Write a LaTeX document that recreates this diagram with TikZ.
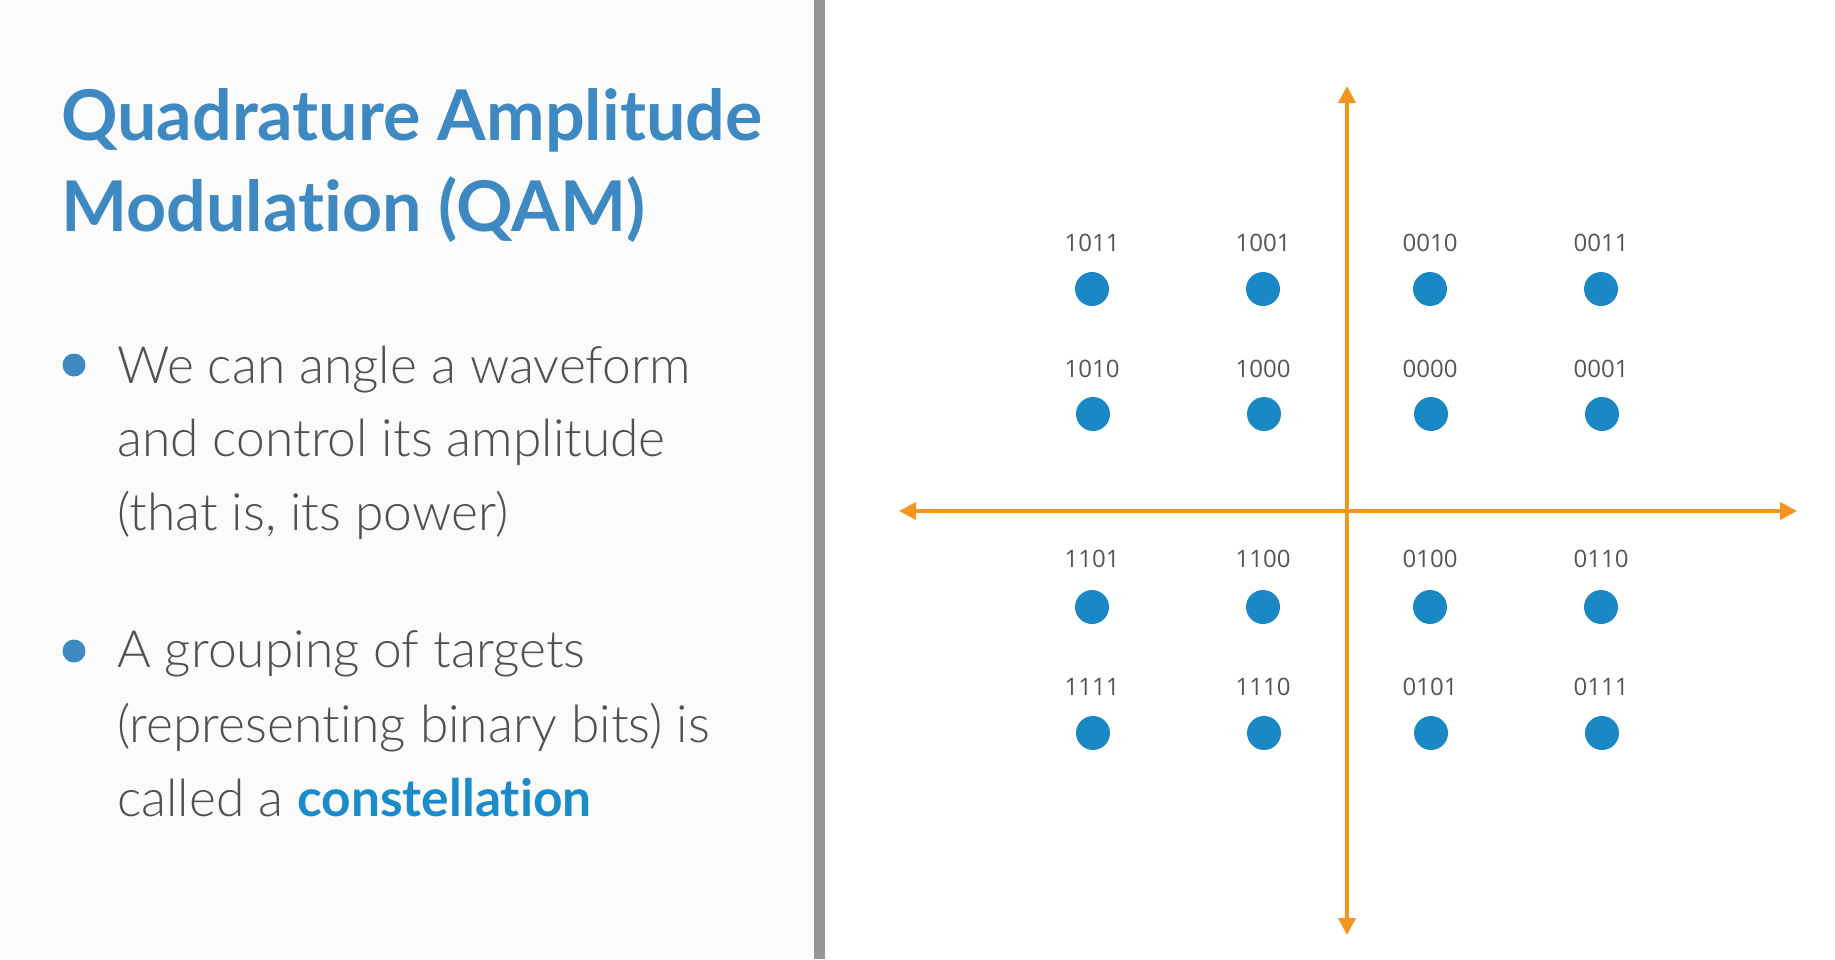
\documentclass[tikz,border=0pt]{standalone}
\usepackage{fontspec}
\setmainfont{Lato}[Ligatures=CommonOff]
\newfontfamily\lightfont{Lato Light}[Ligatures=CommonOff]
\newfontfamily\bitfont{Open Sans}
\usetikzlibrary{arrows.meta}
\definecolor{qamblue}{RGB}{62,137,193}
\definecolor{keyblue}{RGB}{27,139,201}
\definecolor{dotblue}{RGB}{27,136,198}
\definecolor{axisorange}{RGB}{246,148,32}
\definecolor{bodygray}{RGB}{80,80,80}
\definecolor{bitgray}{RGB}{85,85,85}
\definecolor{panelgray}{RGB}{251,251,251}
\definecolor{bargray}{RGB}{150,150,150}

\begin{document}
\begin{tikzpicture}[x=1pt, y=-1pt,
        title/.style={
            anchor=base west,
            inner sep=0pt,
            text=qamblue,
            font=\fontsize{70}{82}\selectfont\bfseries
          },
        body/.style={
            anchor=base west,
            inner sep=0pt,
            text=bodygray,
            font=\fontsize{51.5}{60}\selectfont\lightfont
          },
        bullet/.style={circle, fill=qamblue, minimum size=23pt, inner sep=0pt},
        dot/.style={circle, fill=dotblue, minimum size=34pt, inner sep=0pt},
        bits/.style={text=bitgray, inner sep=0pt, font=\fontsize{24}{28}\selectfont\bitfont},
        axis/.style={{Triangle[length=17pt,width=17pt]}-{Triangle[length=17pt,width=17pt]}, axisorange, line width=4pt}
      ]
      \useasboundingbox (0,0) rectangle (1835,959);
      \fill[panelgray] (0,0) rectangle (814,959);
      \fill[white] (825,0) rectangle (1835,959);
      \fill[bargray] (814,0) rectangle (825,959);

      % left panel
      \node[title] (title1) at (61,140) {Quadrature Amplitude};
      \node[title] (title2) at (61,231) {Modulation (QAM)};

      \node[bullet] (b1) at (74,365) {};
      \node[body] (l1) at (117,383) {We can angle a waveform};
      \node[body] (l2) at (117,456) {and control its amplitude};
      \node[body] (l3) at (117,530) {(that is, its power)};

      \node[bullet] (b2) at (74,651) {};
      \node[body] (l4) at (117,667) {A grouping of targets};
      \node[body] (l5) at (117,742) {(representing binary bits) is};
      \node[body] (l6) at (117,816) {called a {\rmfamily\bfseries\color{keyblue}constellation}};

      % axes
      \coordinate (xl) at (899,511);
      \coordinate (xr) at (1797,511);
      \coordinate (yt) at (1347,86);
      \coordinate (yb) at (1347,935);
      \draw[axis] (xl) -- (xr);
      \draw[axis] (yb) -- (yt);

      % constellation points
      \node[dot] (p1011) at (1092,289) {};
      \node[dot] (p1001) at (1263,289) {};
      \node[dot] (p0010) at (1430,289) {};
      \node[dot] (p0011) at (1601,289) {};
      \node[bits] (t1011) at (1092,243) {1011};
      \node[bits] (t1001) at (1263,243) {1001};
      \node[bits] (t0010) at (1430,243) {0010};
      \node[bits] (t0011) at (1601,243) {0011};

      \node[dot] (p1010) at (1093,414) {};
      \node[dot] (p1000) at (1264,414) {};
      \node[dot] (p0000) at (1431,414) {};
      \node[dot] (p0001) at (1602,414) {};
      \node[bits] (t1010) at (1092,369) {1010};
      \node[bits] (t1000) at (1263,369) {1000};
      \node[bits] (t0000) at (1430,369) {0000};
      \node[bits] (t0001) at (1601,369) {0001};

      \node[dot] (p1101) at (1092,607) {};
      \node[dot] (p1100) at (1263,607) {};
      \node[dot] (p0100) at (1430,607) {};
      \node[dot] (p0110) at (1601,607) {};
      \node[bits] (t1101) at (1092,559) {1101};
      \node[bits] (t1100) at (1263,559) {1100};
      \node[bits] (t0100) at (1430,559) {0100};
      \node[bits] (t0110) at (1601,559) {0110};

      \node[dot] (p1111) at (1093,733) {};
      \node[dot] (p1110) at (1264,733) {};
      \node[dot] (p0101) at (1431,733) {};
      \node[dot] (p0111) at (1602,733) {};
      \node[bits] (t1111) at (1092,687) {1111};
      \node[bits] (t1110) at (1263,687) {1110};
      \node[bits] (t0101) at (1430,687) {0101};
      \node[bits] (t0111) at (1601,687) {0111};
    \end{tikzpicture}
\end{document}
